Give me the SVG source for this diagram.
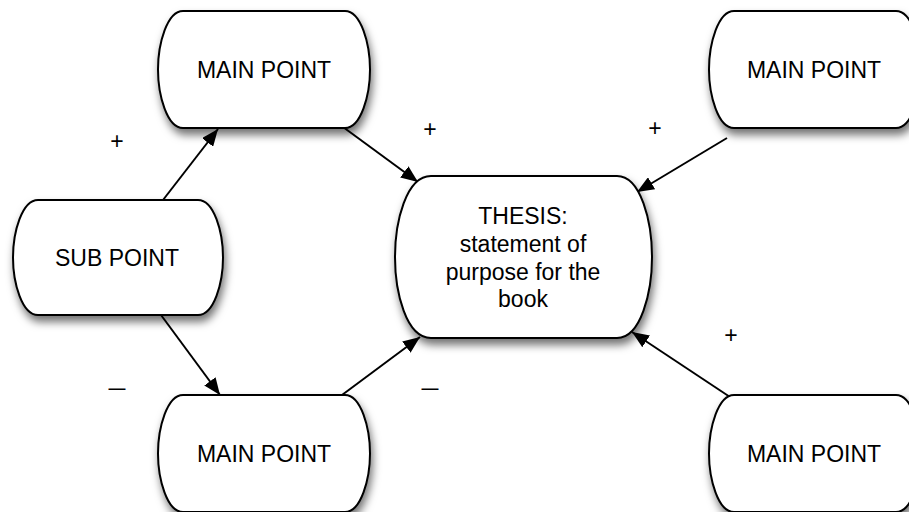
<svg xmlns="http://www.w3.org/2000/svg" width="909" height="512" viewBox="0 0 909 512">
  <defs>
    <style>
      .node { fill: #ffffff; stroke: #000000; stroke-width: 2; filter: url(#shadow); }
      .label { font-family: "Liberation Sans", Arial, sans-serif; font-size: 23px; fill: #000000; text-anchor: middle; }
      .conn { stroke: #000000; stroke-width: 2; fill: none; marker-end: url(#arrow); }
      .sign { font-family: "Liberation Sans", Arial, sans-serif; font-size: 23px; fill: #000000; text-anchor: middle; }
    </style>
    <filter id="shadow" x="-20%" y="-20%" width="150%" height="150%">
      <feDropShadow dx="2" dy="6" stdDeviation="4" flood-color="#000000" flood-opacity="0.55"/>
    </filter>
    <marker id="arrow" markerUnits="userSpaceOnUse" markerWidth="18" markerHeight="14" refX="17" refY="7" orient="auto">
      <path d="M0,0 L17,7 L0,14 Z" fill="#000000"/>
    </marker>
  </defs>
  <rect width="909" height="512" fill="#ffffff"/>

  <g id="connectors">
    <line class="conn" x1="163" y1="200" x2="218" y2="129"/>
    <line class="conn" x1="161" y1="315" x2="220" y2="395"/>
    <line class="conn" x1="343" y1="127" x2="418" y2="182"/>
    <line class="conn" x1="727" y1="138" x2="637" y2="192"/>
    <line class="conn" x1="342" y1="395" x2="420" y2="337"/>
    <line class="conn" x1="730" y1="397" x2="632" y2="332"/>
  </g>

  <g id="node-main-top-left">
    <path class="node" d="M183,11 H345 C361,11 370,44 370,69.5 C370,95 361,128 345,128 H183 C167,128 158,95 158,69.5 C158,44 167,11 183,11 Z"/>
    <text class="label" x="264" y="78">MAIN POINT</text>
  </g>

  <g id="node-main-top-right">
    <path class="node" d="M734,11 H896 C912,11 921,44 921,69.5 C921,95 912,128 896,128 H734 C718,128 709,95 709,69.5 C709,44 718,11 734,11 Z"/>
    <text class="label" x="814" y="78">MAIN POINT</text>
  </g>

  <g id="node-sub-point">
    <path class="node" d="M38,200 H198 C214,200 223,232 223,257.5 C223,283 214,315 198,315 H38 C22,315 13,283 13,257.5 C13,232 22,200 38,200 Z"/>
    <text class="label" x="117" y="266">SUB POINT</text>
  </g>

  <g id="node-thesis">
    <path class="node" d="M431,176 H617 C641,176 652,222 652,257 C652,292 641,338 617,338 H431 C406,338 395,292 395,257 C395,222 406,176 431,176 Z"/>
    <text class="label" x="523" y="224">THESIS:</text>
    <text class="label" x="523" y="252">statement of</text>
    <text class="label" x="523" y="280">purpose for the</text>
    <text class="label" x="523" y="307">book</text>
  </g>

  <g id="node-main-bottom-left">
    <path class="node" d="M183,395 H345 C361,395 370,428 370,453.5 C370,479 361,512 345,512 H183 C167,512 158,479 158,453.5 C158,428 167,395 183,395 Z"/>
    <text class="label" x="264" y="462">MAIN POINT</text>
  </g>

  <g id="node-main-bottom-right">
    <path class="node" d="M734,395 H896 C912,395 921,428 921,453.5 C921,479 912,512 896,512 H734 C718,512 709,479 709,453.5 C709,428 718,395 734,395 Z"/>
    <text class="label" x="814" y="462">MAIN POINT</text>
  </g>

  <g id="signs">
    <text class="sign" x="117" y="149">+</text>
    <text class="sign" x="430" y="137">+</text>
    <text class="sign" x="655" y="136">+</text>
    <text class="sign" x="731" y="343">+</text>
    <text class="sign" x="117" y="395" textLength="17" lengthAdjust="spacingAndGlyphs">–</text>
    <text class="sign" x="430" y="395" textLength="17" lengthAdjust="spacingAndGlyphs">–</text>
  </g>
</svg>
